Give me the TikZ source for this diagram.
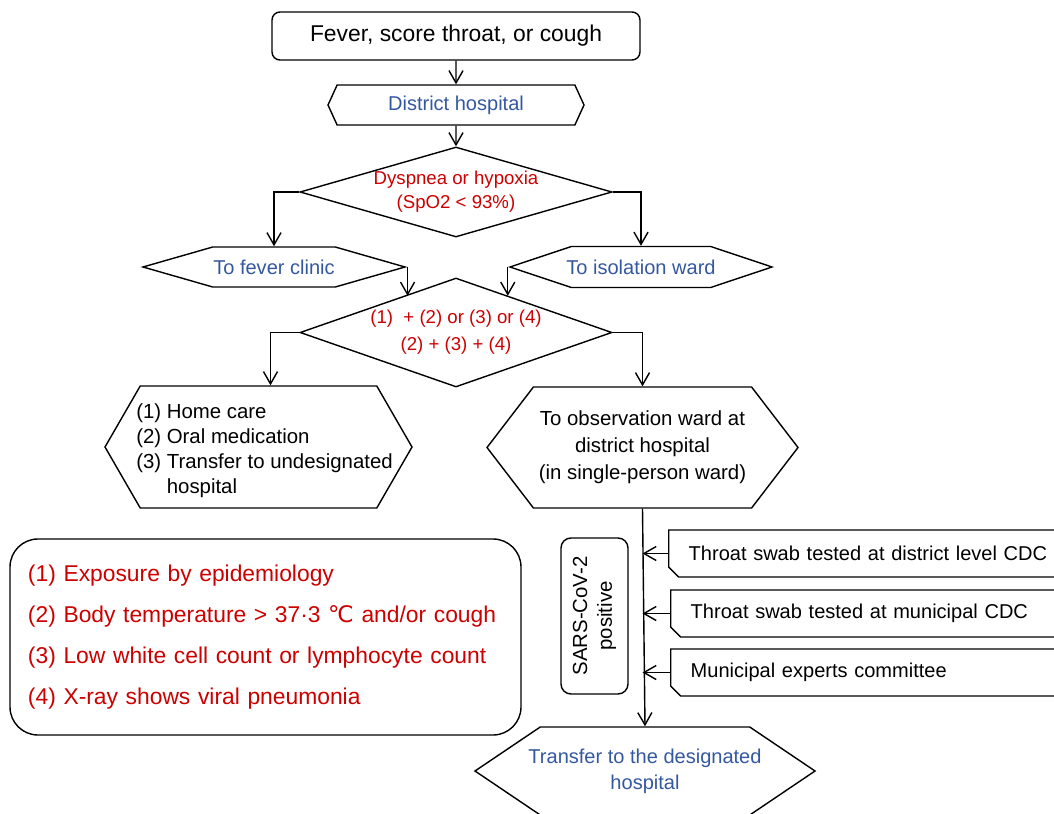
\documentclass[tikz,border=0pt]{standalone}
\usepackage{fontspec}
\setmainfont{Liberation Sans}
\newfontfamily\symfont{DejaVu Sans}
\usepackage{xcolor}
\usepackage{tikz}
\usetikzlibrary{shapes,arrows.meta,calc}

\definecolor{wardblue}{RGB}{52,88,160}
\definecolor{critred}{RGB}{204,0,0}
\newlength{\px}
\setlength{\px}{0.02cm}

\begin{document}
\begin{tikzpicture}[x=0.02cm,y=-0.02cm,line width=0.8pt,
        >={Straight Barb[length=7pt,width=8pt]}]
        % Define the styles for the boxes
        \tikzstyle{startbox}=[draw, rounded corners=8\px, minimum width=368\px, minimum height=48\px, font=\fontsize{13}{15}\selectfont];
        \tikzstyle{hexbox}=[draw, signal, signal to=west and east, inner xsep=-20\px, inner ysep=0pt, align=center, font=\fontsize{11.4}{15}\selectfont];
        \tikzstyle{checkbox}=[draw, diamond, inner sep=0pt, minimum width=312\px, align=center, text=critred, font=\fontsize{10.6}{13.7}\selectfont];
        \tikzstyle{cdcbox}=[draw, chamfered rectangle, chamfered rectangle corners=south west, chamfered rectangle xsep=5\px, chamfered rectangle ysep=5\px, inner xsep=-2\px, anchor=west, minimum width=420\px, minimum height=47\px, text width=380\px, align=left, font=\fontsize{11.4}{14}\selectfont];

        % Fix the size of the picture
        \useasboundingbox (0,0) rectangle (1054,814);
        \clip (0,0) rectangle (1054,814);

        % Top of the chart
        \node[startbox] (symptom) at (456,36) {Fever, score throat, or cough};
        \node[hexbox, text=wardblue, minimum width=256\px, minimum height=40\px, signal pointer angle=131] (district) at (456,105) {District hospital};
        \node[checkbox, minimum height=90\px, aspect=3.47] (hypoxia) at (456,192) {Dyspnea or hypoxia\\(SpO2 < 93\%)};

        % Two wards
        \node[hexbox, text=wardblue, minimum width=262\px, minimum height=40\px, signal pointer angle=32] (fever) at (274,267) {To fever clinic};
        \node[hexbox, text=wardblue, minimum width=262\px, minimum height=41\px, signal pointer angle=37] (isolation) at (641,267) {To isolation ward};
        \node[checkbox, minimum height=109\px, aspect=2.86, font=\fontsize{10.6}{15.4}\selectfont] (criteria) at (456,332.5) {(1)\ \ + (2) or (3) or (4)\\(2) + (3) + (4)};

        % Outcomes
        \node[hexbox, minimum width=307\px, minimum height=122\px, signal pointer angle=120,
            label={[align=left, xshift=6\px, yshift=-4\px, font=\fontsize{11.6}{14.2}\selectfont]center:{(1) Home care\\(2) Oral medication\\(3) Transfer to undesignated\\\phantom{(3) }hospital}}] (homecare) at (258.5,447) {};
        \node[hexbox, minimum width=311\px, minimum height=121\px, signal pointer angle=105, font=\fontsize{11.6}{15.4}\selectfont] (observe) at (642.5,447.5) {To observation ward at\\district hospital\\(in single-person ward)};
        \node[hexbox, text=wardblue, minimum width=340\px, minimum height=88\px, signal pointer angle=68, font=\fontsize{11.4}{14.8}\selectfont] (designated) at (645,771) {Transfer to the designated\\hospital};

        % Tests
        \node[cdcbox] (cdc1) at (668,553.5) {Throat swab tested at district level CDC};
        \node[cdcbox] (cdc2) at (670,613.5) {Throat swab tested at municipal CDC};
        \node[cdcbox] (cdc3) at (670,672.5) {Municipal experts committee};
        \node[draw, rounded corners=10\px, rotate=90, minimum width=156\px, minimum height=67\px, align=center, font=\fontsize{11.6}{14.2}\selectfont] (positive) at (594.5,616) {SARS-CoV-2\\positive};

        % Key to the criteria
        \node[draw, rounded corners=28\px, minimum width=511\px, minimum height=196\px, text width=475\px, align=left, text=critred, font=\fontsize{13}{23.3}\selectfont] (criteriakey) at (265.5,637) {(1) Exposure by epidemiology\\(2) Body temperature > 37·3 {\symfont ℃} and/or cough\\(3) Low white cell count or lymphocyte count\\(4) X-ray shows viral pneumonia};

        % Connectors
        \draw[->] (symptom) -- (district);
        \draw[->] (district) -- (hypoxia);
        \draw[->] (hypoxia.west) -| (fever.north);
        \draw[->] (hypoxia.east) -| (isolation.north);
        \draw[->] (fever.east) -- (fever.east |- criteria.145);
        \draw[->] (isolation.west) -- (isolation.west |- criteria.35);
        \draw[->] (criteria.west) -| ($(homecare.north)+(12,0)$);
        \draw[->] (criteria.east) -| (observe.north);
        \draw[->] (observe.south) -- (designated.north);
        \foreach \src in {cdc1,cdc2,cdc3}
            \draw[->] (\src.west) -- (\src.west -| observe.south);
\end{tikzpicture}
\end{document}
